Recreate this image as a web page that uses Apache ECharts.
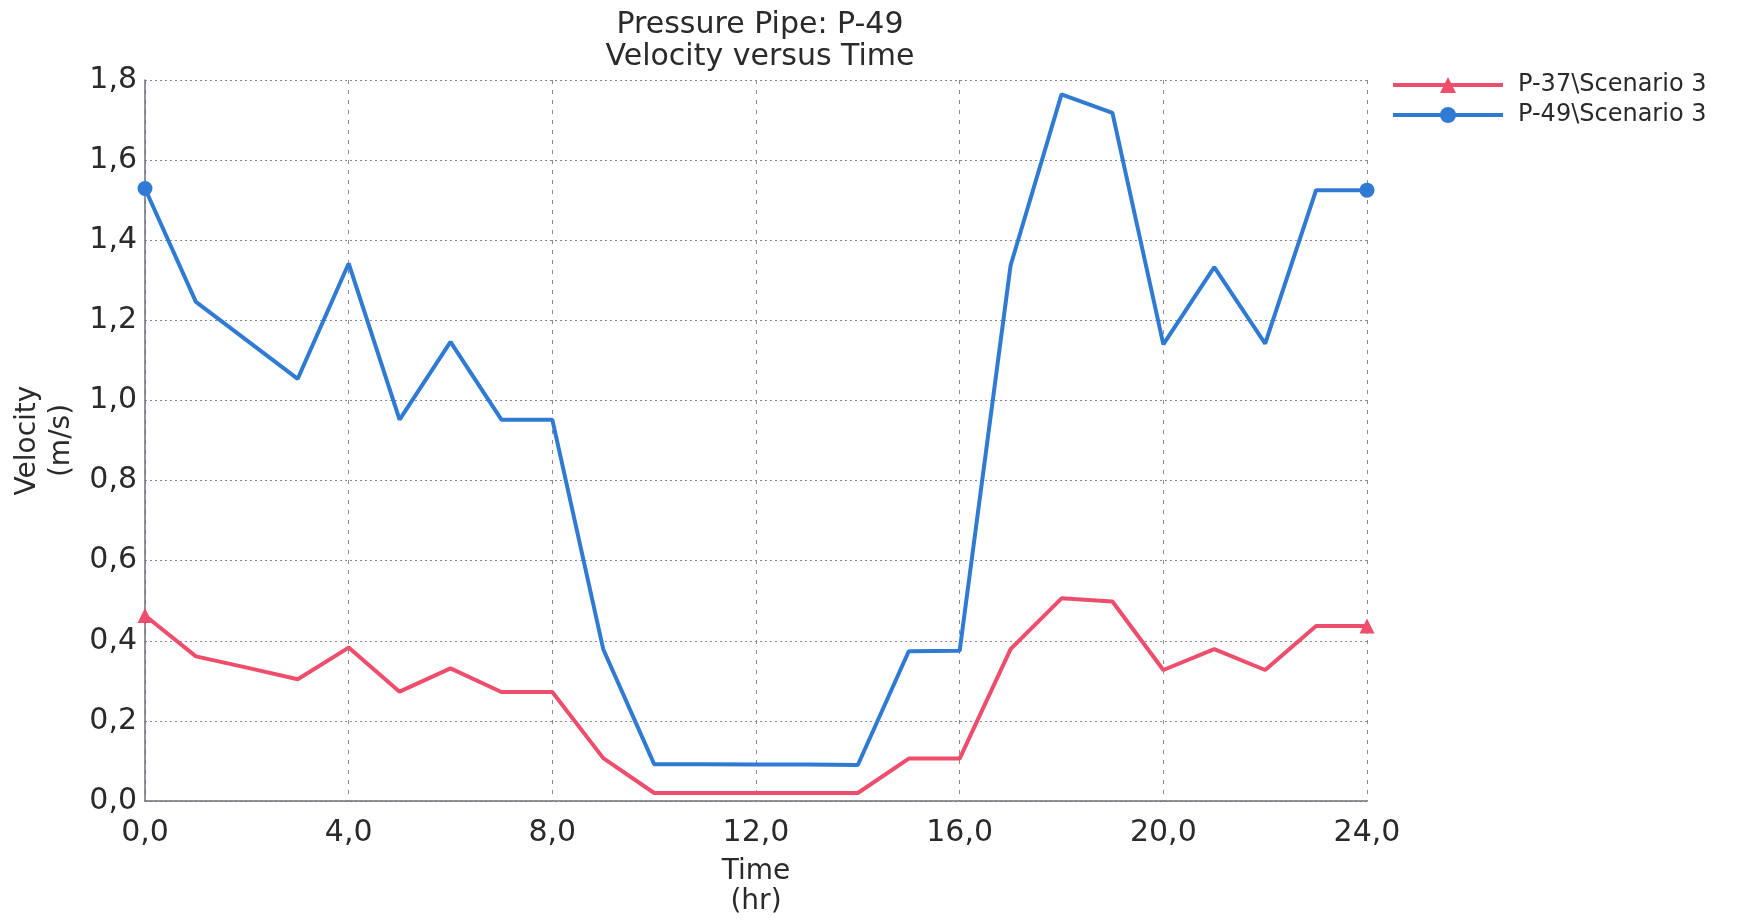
<!DOCTYPE html>
<html>
<head>
<meta charset="utf-8">
<script src="https://cdn.jsdelivr.net/npm/echarts@6/dist/echarts.min.js"></script>
<style>
html,body{margin:0;padding:0;background:#fff;}
#chart{width:1742px;height:920px;}
</style>
</head>
<body>
<div id="chart"></div>
<script>
// ---- data ----
var titleLines = ['Pressure Pipe: P-49', 'Velocity versus Time'];
var hours = [0,1,2,3,4,5,6,7,8,9,10,11,12,13,14,15,16,17,18,19,20,21,22,23,24];
var p37Name = 'P-37\\Scenario 3';
var p49Name = 'P-49\\Scenario 3';
var p37 = [0.463,0.361,0.333,0.304,0.383,0.273,0.331,0.272,0.272,0.107,0.020,0.020,0.020,0.020,0.020,0.106,0.106,0.379,0.506,0.498,0.327,0.379,0.327,0.437,0.437];
var p49 = [1.529,1.246,1.150,1.054,1.342,0.952,1.146,0.952,0.952,0.379,0.092,0.092,0.091,0.091,0.090,0.374,0.375,1.337,1.764,1.718,1.140,1.333,1.142,1.525,1.525];
var xName = 'Time\n(hr)';
var yName = 'Velocity\n(m/s)';

var RED = '#ee4d6c';
var BLUE = '#2f7bd3';
var FONT = 'DejaVu Sans';

function build(vals) {
  return vals.map(function (v, i) {
    var item = { value: [hours[i], v] };
    if (i !== 0 && i !== vals.length - 1) item.symbol = 'none';
    return item;
  });
}
function comma(v) { return v.toFixed(1).replace('.', ','); }

var chart = echarts.init(document.getElementById('chart'));
chart.setOption({
  backgroundColor: '#ffffff',
  animation: false,
  title: {
    text: titleLines.join('\n'),
    left: 755,
    top: 4,
    textAlign: 'center',
    textStyle: { fontFamily: FONT, fontSize: 30, fontWeight: 'normal', color: '#2a2a2a', lineHeight: 32 }
  },
  legend: {
    orient: 'vertical',
    left: 1386,
    top: 68,
    itemWidth: 110,
    itemHeight: 20,
    itemGap: 6,
    data: [p37Name, p49Name],
    lineStyle: { width: 4 },
    textStyle: { fontFamily: FONT, fontSize: 24, lineHeight: 24, color: '#2a2a2a', padding: [0, 0, 0, 10] }
  },
  grid: { left: 145, right: 375, top: 80, bottom: 119, containLabel: false, outerBoundsMode: 'none' },
  xAxis: {
    type: 'value',
    min: 0, max: 24, interval: 4,
    name: xName,
    nameLocation: 'middle',
    nameGap: 56,
    nameTextStyle: { fontFamily: FONT, fontSize: 28, color: '#2a2a2a', lineHeight: 30 },
    axisLine: { show: true, onZero: false, lineStyle: { color: '#6f6f78', width: 1.5 } },
    axisTick: { show: false },
    axisLabel: { formatter: comma, fontFamily: FONT, fontSize: 30, color: '#2a2a2a', margin: 17 },
    splitLine: { show: true, lineStyle: { color: '#8a8a8a', width: 1, type: [4, 6] } }
  },
  yAxis: {
    type: 'value',
    min: 0, max: 1.8, interval: 0.2,
    name: yName,
    nameLocation: 'middle',
    nameGap: 60,
    nameTextStyle: { fontFamily: FONT, fontSize: 28, color: '#2a2a2a', lineHeight: 34 },
    axisLine: { show: true, lineStyle: { color: '#6f6f78', width: 1.5 } },
    axisTick: { show: false },
    axisLabel: { formatter: comma, fontFamily: FONT, fontSize: 30, color: '#2a2a2a', margin: 8 },
    splitLine: { show: true, lineStyle: { color: '#8a8a8a', width: 1, type: [2, 3] } }
  },
  series: [
    {
      name: p37Name,
      type: 'line',
      data: build(p37),
      symbol: 'triangle',
      symbolSize: 15,
      showSymbol: true,
      showAllSymbol: true,
      color: RED,
      itemStyle: { color: RED },
      lineStyle: { color: RED, width: 4 },
      z: 3
    },
    {
      name: p49Name,
      type: 'line',
      data: build(p49),
      symbol: 'circle',
      symbolSize: 15,
      showSymbol: true,
      showAllSymbol: true,
      color: BLUE,
      itemStyle: { color: BLUE },
      lineStyle: { color: BLUE, width: 4 },
      z: 4
    }
  ]
});
</script>
</body>
</html>
